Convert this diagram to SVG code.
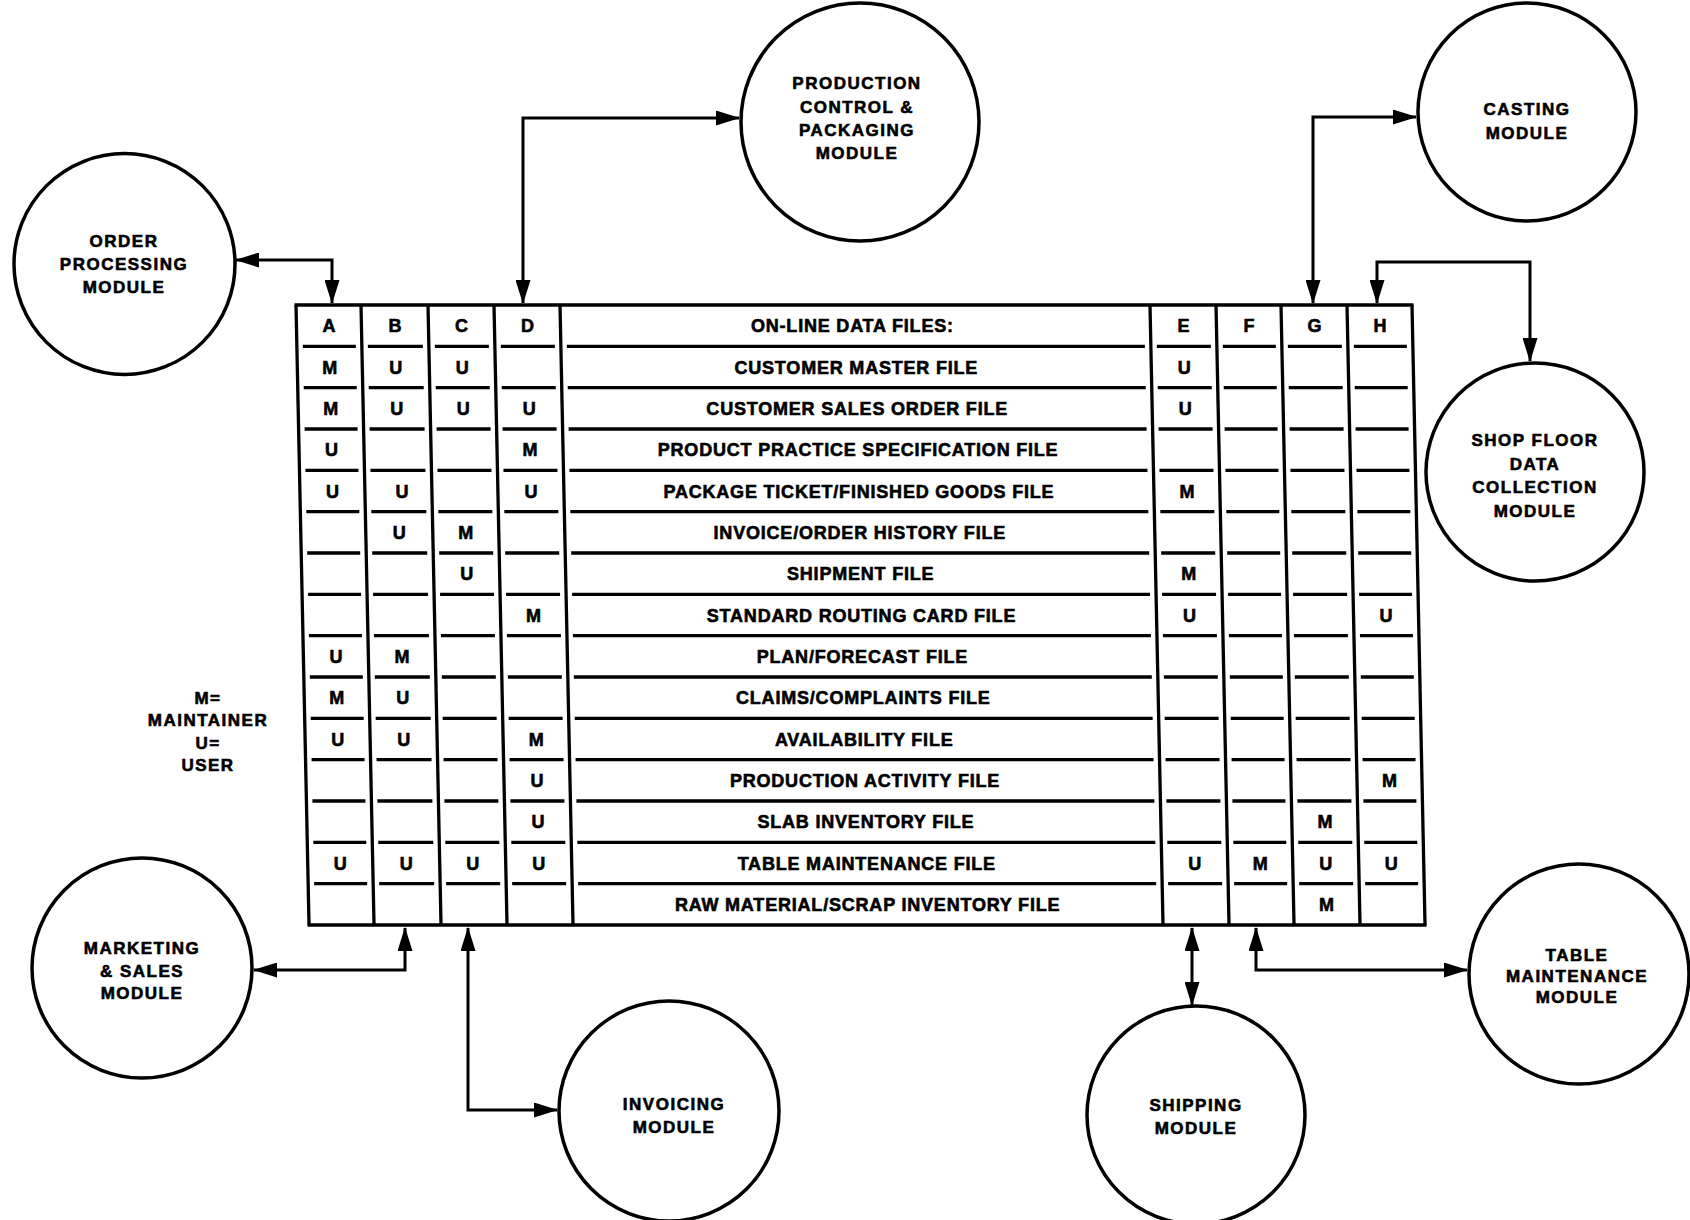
<svg xmlns="http://www.w3.org/2000/svg" width="1690" height="1220" viewBox="0 0 1690 1220">
<style>
  .bg{fill:#fff}
  .node circle{fill:none;stroke:#000;stroke-width:3.5}
  .lbl{font-family:"Liberation Sans",Arial,sans-serif;font-weight:bold;font-size:17px;letter-spacing:1.5px;text-anchor:middle;fill:#000;stroke:#000;stroke-width:0.6px}
  .cell{font-family:"Liberation Sans",Arial,sans-serif;font-weight:bold;font-size:18px;text-anchor:middle;fill:#000;stroke:#000;stroke-width:0.6px}
  .file{letter-spacing:0.8px}
  .vline{stroke:#000;stroke-width:3.3;fill:none}
  .hline{stroke:#000;stroke-width:3.3;stroke-dasharray:53 12 55 12 54 12 54 12 578 12 54 12 53 12 54 12 53 12}
  .conn path{fill:none;stroke:#000;stroke-width:3;marker-end:url(#ah)}
  .conn path.both{marker-start:url(#ah)}
</style>
<defs>
  <marker id="ah" viewBox="0 0 24 15" refX="23" refY="7.5" markerWidth="24" markerHeight="15" markerUnits="userSpaceOnUse" orient="auto-start-reverse">
    <path d="M0,0 L24,7.5 L0,15 Z" fill="#000"/>
  </marker>
</defs>
<rect class="bg" x="0" y="0" width="1690" height="1220"/>

<g id="data-files-table">
  <g transform="matrix(1 0 0.021 1 -6.405 0)">
    <line class="vline" x1="294.5" y1="305" x2="1413.5" y2="305"/>
    <line class="vline" x1="294.5" y1="925" x2="1413.5" y2="925"/>
    <line class="vline" x1="296" y1="305" x2="296" y2="925"/>
    <line class="vline" x1="361" y1="305" x2="361" y2="925"/>
    <line class="vline" x1="428" y1="305" x2="428" y2="925"/>
    <line class="vline" x1="494" y1="305" x2="494" y2="925"/>
    <line class="vline" x1="560" y1="305" x2="560" y2="925"/>
    <line class="vline" x1="1150" y1="305" x2="1150" y2="925"/>
    <line class="vline" x1="1216" y1="305" x2="1216" y2="925"/>
    <line class="vline" x1="1281" y1="305" x2="1281" y2="925"/>
    <line class="vline" x1="1347" y1="305" x2="1347" y2="925"/>
    <line class="vline" x1="1412" y1="305" x2="1412" y2="925"/>
    <line class="hline" x1="302" y1="346.3" x2="1406" y2="346.3"/>
    <line class="hline" x1="302" y1="387.7" x2="1406" y2="387.7"/>
    <line class="hline" x1="302" y1="429" x2="1406" y2="429"/>
    <line class="hline" x1="302" y1="470.3" x2="1406" y2="470.3"/>
    <line class="hline" x1="302" y1="511.7" x2="1406" y2="511.7"/>
    <line class="hline" x1="302" y1="553" x2="1406" y2="553"/>
    <line class="hline" x1="302" y1="594.3" x2="1406" y2="594.3"/>
    <line class="hline" x1="302" y1="635.7" x2="1406" y2="635.7"/>
    <line class="hline" x1="302" y1="677" x2="1406" y2="677"/>
    <line class="hline" x1="302" y1="718.3" x2="1406" y2="718.3"/>
    <line class="hline" x1="302" y1="759.7" x2="1406" y2="759.7"/>
    <line class="hline" x1="302" y1="801" x2="1406" y2="801"/>
    <line class="hline" x1="302" y1="842.3" x2="1406" y2="842.3"/>
    <line class="hline" x1="302" y1="883.7" x2="1406" y2="883.7"/>
  </g>
  <g class="cell">
    <g transform="translate(0.4,0)">
      <text x="328.5" y="332">A</text><text x="394.5" y="332">B</text><text x="461" y="332">C</text><text x="527" y="332">D</text>
      <text class="file" x="852" y="332">ON-LINE DATA FILES:</text>
      <text x="1183" y="332">E</text><text x="1248.5" y="332">F</text><text x="1314" y="332">G</text><text x="1379.5" y="332">H</text>
    </g>
    <g transform="translate(1.3,0)">
      <text x="328.5" y="373.5">M</text><text x="394.5" y="373.5">U</text><text x="461" y="373.5">U</text>
      <text class="file" x="855" y="373.5">CUSTOMER MASTER FILE</text>
      <text x="1183" y="373.5">U</text>
    </g>
    <g transform="translate(2.2,0)">
      <text x="328.5" y="415">M</text><text x="394.5" y="415">U</text><text x="461" y="415">U</text><text x="527" y="415">U</text>
      <text class="file" x="855" y="415">CUSTOMER SALES ORDER FILE</text>
      <text x="1183" y="415">U</text>
    </g>
    <g transform="translate(3.1,0)">
      <text x="328.5" y="456">U</text><text x="527" y="456">M</text>
      <text class="file" x="855" y="456">PRODUCT PRACTICE SPECIFICATION FILE</text>
    </g>
    <g transform="translate(3.9,0)">
      <text x="328.5" y="497.5">U</text><text x="398" y="497.5">U</text><text x="527" y="497.5">U</text>
      <text class="file" x="855" y="497.5">PACKAGE TICKET/FINISHED GOODS FILE</text>
      <text x="1183" y="497.5">M</text>
    </g>
    <g transform="translate(4.8,0)">
      <text x="394.5" y="539">U</text><text x="461" y="539">M</text>
      <text class="file" x="855" y="539">INVOICE/ORDER HISTORY FILE</text>
    </g>
    <g transform="translate(5.7,0)">
      <text x="461" y="580">U</text>
      <text class="file" x="855" y="580">SHIPMENT FILE</text>
      <text x="1183" y="580">M</text>
    </g>
    <g transform="translate(6.5,0)">
      <text x="527" y="621.5">M</text>
      <text class="file" x="855" y="621.5">STANDARD ROUTING CARD FILE</text>
      <text x="1183" y="621.5">U</text><text x="1379.5" y="621.5">U</text>
    </g>
    <g transform="translate(7.4,0)">
      <text x="328.5" y="663">U</text><text x="394.5" y="663">M</text>
      <text class="file" x="855" y="663">PLAN/FORECAST FILE</text>
    </g>
    <g transform="translate(8.3,0)">
      <text x="328.5" y="704">M</text><text x="394.5" y="704">U</text>
      <text class="file" x="855" y="704">CLAIMS/COMPLAINTS FILE</text>
    </g>
    <g transform="translate(9.2,0)">
      <text x="328.5" y="745.5">U</text><text x="394.5" y="745.5">U</text><text x="527" y="745.5">M</text>
      <text class="file" x="855" y="745.5">AVAILABILITY FILE</text>
    </g>
    <g transform="translate(10,0)">
      <text x="527" y="787">U</text>
      <text class="file" x="855" y="787">PRODUCTION ACTIVITY FILE</text>
      <text x="1379.5" y="787">M</text>
    </g>
    <g transform="translate(10.9,0)">
      <text x="527" y="828">U</text>
      <text class="file" x="855" y="828">SLAB INVENTORY FILE</text>
      <text x="1314" y="828">M</text>
    </g>
    <g transform="translate(11.8,0)">
      <text x="328.5" y="869.5">U</text><text x="394.5" y="869.5">U</text><text x="461" y="869.5">U</text><text x="527" y="869.5">U</text>
      <text class="file" x="855" y="869.5">TABLE MAINTENANCE FILE</text>
      <text x="1183" y="869.5">U</text><text x="1248.5" y="869.5">M</text><text x="1314" y="869.5">U</text><text x="1379.5" y="869.5">U</text>
    </g>
    <g transform="translate(12.6,0)">
      <text class="file" x="855" y="911">RAW MATERIAL/SCRAP INVENTORY FILE</text>
      <text x="1314" y="911">M</text>
    </g>
  </g>
</g>

<g id="legend" class="lbl">
  <text x="208" y="704">M=</text>
  <text x="208" y="726">MAINTAINER</text>
  <text x="208" y="749">U=</text>
  <text x="208" y="771">USER</text>
</g>

<g id="order-processing" class="node">
  <circle cx="124.5" cy="264" r="110.5"/>
  <text class="lbl"><tspan x="124" y="247">ORDER</tspan><tspan x="124" y="270">PROCESSING</tspan><tspan x="124" y="293">MODULE</tspan></text>
</g>
<g id="production-control" class="node">
  <circle cx="860" cy="122" r="119"/>
  <text class="lbl"><tspan x="857" y="89">PRODUCTION</tspan><tspan x="857" y="112.5">CONTROL &amp;</tspan><tspan x="857" y="136">PACKAGING</tspan><tspan x="857" y="159">MODULE</tspan></text>
</g>
<g id="casting" class="node">
  <circle cx="1527" cy="112" r="109"/>
  <text class="lbl"><tspan x="1527" y="115">CASTING</tspan><tspan x="1527" y="139">MODULE</tspan></text>
</g>
<g id="shop-floor" class="node">
  <circle cx="1535" cy="472" r="109"/>
  <text class="lbl"><tspan x="1535" y="446">SHOP FLOOR</tspan><tspan x="1535" y="469.5">DATA</tspan><tspan x="1535" y="493">COLLECTION</tspan><tspan x="1535" y="516.5">MODULE</tspan></text>
</g>
<g id="marketing-sales" class="node">
  <circle cx="142" cy="968" r="110"/>
  <text class="lbl"><tspan x="142" y="954">MARKETING</tspan><tspan x="142" y="977">&amp; SALES</tspan><tspan x="142" y="999">MODULE</tspan></text>
</g>
<g id="invoicing" class="node">
  <circle cx="669" cy="1111" r="110"/>
  <text class="lbl"><tspan x="674" y="1110">INVOICING</tspan><tspan x="674" y="1133">MODULE</tspan></text>
</g>
<g id="shipping" class="node">
  <circle cx="1196" cy="1115" r="109"/>
  <text class="lbl"><tspan x="1196" y="1111">SHIPPING</tspan><tspan x="1196" y="1134">MODULE</tspan></text>
</g>
<g id="table-maintenance" class="node">
  <circle cx="1579" cy="974" r="110"/>
  <text class="lbl"><tspan x="1577" y="961">TABLE</tspan><tspan x="1577" y="982">MAINTENANCE</tspan><tspan x="1577" y="1003">MODULE</tspan></text>
</g>

<g id="connectors" class="conn">
  <path class="both" d="M236,260 L332,260 L332,303"/>
  <path class="both" d="M523,303 L523,118 L739,118"/>
  <path class="both" d="M1313,303 L1313,117 L1416,117"/>
  <path class="both" d="M1377,303 L1377,262 L1530,262 L1530,361"/>
  <path class="both" d="M405,928 L405,970 L254,970"/>
  <path class="both" d="M468,928 L468,1110 L557,1110"/>
  <path class="both" d="M1192,928 L1192,1005"/>
  <path class="both" d="M1256,928 L1256,970 L1467,970"/>
</g>
</svg>
